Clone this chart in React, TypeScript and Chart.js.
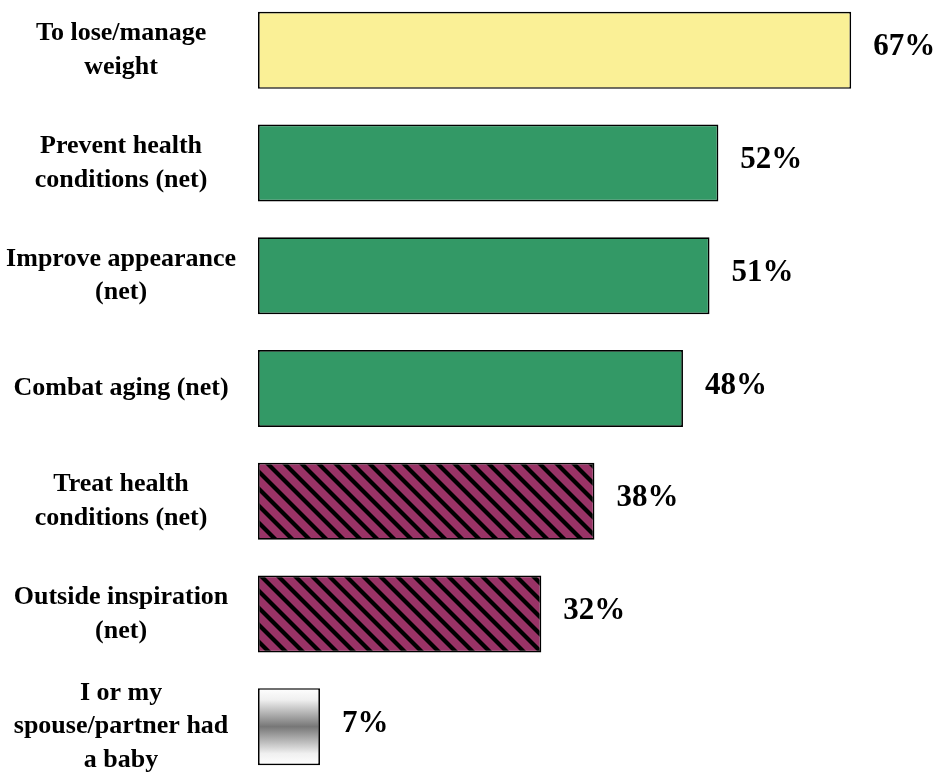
import React, { useEffect, useRef } from "react";
import { Chart, registerables } from "chart.js";

Chart.register(...registerables);

const categories: string[][] = [
  ["To lose/manage", "weight"],
  ["Prevent health", "conditions (net)"],
  ["Improve appearance", "(net)"],
  ["Combat aging (net)"],
  ["Treat health", "conditions (net)"],
  ["Outside inspiration", "(net)"],
  ["I or my", "spouse/partner had", "a baby"],
];
const values: number[] = [67, 52, 51, 48, 38, 32, 7];
const valueLabels: string[] = ["67%", "52%", "51%", "48%", "38%", "32%", "7%"];
const fillKinds: string[] = ["yellow", "green", "green", "green", "hatch", "hatch", "gradient"];

const FONT = "'Liberation Serif', 'Times New Roman', serif";

function makeHatch(): CanvasPattern | string {
  const c = document.createElement("canvas");
  const n = 17;
  c.width = n;
  c.height = n;
  const g = c.getContext("2d");
  if (!g) return "#993366";
  g.fillStyle = "#993366";
  g.fillRect(0, 0, n, n);
  g.fillStyle = "#000000";
  for (let y = 0; y < n; y++) {
    for (let x = 0; x < n; x++) {
      const d = (((x - y) % n) + n) % n;
      if (d < 5) g.fillRect(x, y, 1, 1);
      else if (d === 5 || d === n - 1) {
        g.fillStyle = "#4d1a33";
        g.fillRect(x, y, 1, 1);
        g.fillStyle = "#000000";
      }
    }
  }
  const p = g.createPattern(c, "repeat");
  return p || "#993366";
}

export default function App() {
  const ref = useRef<HTMLCanvasElement | null>(null);

  useEffect(() => {
    const canvas = ref.current;
    if (!canvas) return;
    const hatch = makeHatch();

    const valuePlugin = {
      id: "valueLabels",
      afterDatasetsDraw(chart: any) {
        const ctx = chart.ctx;
        const meta = chart.getDatasetMeta(0);
        ctx.save();
        ctx.font = `bold 31px ${FONT}`;
        ctx.fillStyle = "#000";
        ctx.textAlign = "left";
        ctx.textBaseline = "middle";
        meta.data.forEach((el: any, i: number) => {
          ctx.fillText(valueLabels[i], el.x + 22, el.y - 3);
        });
        ctx.restore();
      },
    };

    const chart = new Chart(canvas, {
      type: "bar",
      data: {
        labels: categories,
        datasets: [
          {
            data: values,
            backgroundColor: (context: any) => {
              const kind = fillKinds[context.dataIndex];
              if (kind === "yellow") return "#FAF096";
              if (kind === "green") return "#339966";
              if (kind === "hatch") return hatch;
              const ch = context.chart;
              const ys = ch.scales && ch.scales.y;
              if (!ys) return "#bbbbbb";
              const cy = ys.getPixelForValue(context.dataIndex);
              const h = (ys.height / categories.length) * 0.683;
              const gr = ch.ctx.createLinearGradient(0, cy - h / 2, 0, cy + h / 2);
              gr.addColorStop(0, "#ffffff");
              gr.addColorStop(0.15, "#f0f0f0");
              gr.addColorStop(0.5, "#777777");
              gr.addColorStop(0.85, "#f0f0f0");
              gr.addColorStop(1, "#ffffff");
              return gr;
            },
            borderColor: "#000000",
            borderWidth: 1.7,
            borderSkipped: false,
            barPercentage: 0.683,
            categoryPercentage: 1,
          },
        ],
      },
      options: {
        indexAxis: "y",
        responsive: false,
        animation: false,
        devicePixelRatio: 1,
        layout: { padding: { left: 0, right: 20, top: 0, bottom: 0 } },
        plugins: {
          legend: { display: false },
          tooltip: { enabled: false },
        },
        scales: {
          x: {
            display: false,
            min: 0,
            max: 75,
          },
          y: {
            position: "left",
            grid: { display: false, drawTicks: false },
            border: { display: false },
            ticks: {
              color: "#000",
              crossAlign: "center",
              padding: 22,
              autoSkip: false,
              font: { family: FONT, size: 26, weight: "bold", lineHeight: 1.3 },
            },
            afterFit(scale: any) {
              scale.width = 258;
              scale.paddingTop = 0;
              scale.paddingBottom = 0;
            },
          },
        },
      },
      plugins: [valuePlugin],
    } as any);

    return () => chart.destroy();
  }, []);

  return (
    <div
      style={{
        position: "fixed",
        top: 0,
        left: 0,
        width: 942,
        height: 774,
        overflow: "hidden",
        background: "#fff",
      }}
    >
      <canvas
        ref={ref}
        width={942}
        height={789}
        style={{ position: "absolute", top: -6, left: 0, width: 942, height: 789 }}
      />
    </div>
  );
}
